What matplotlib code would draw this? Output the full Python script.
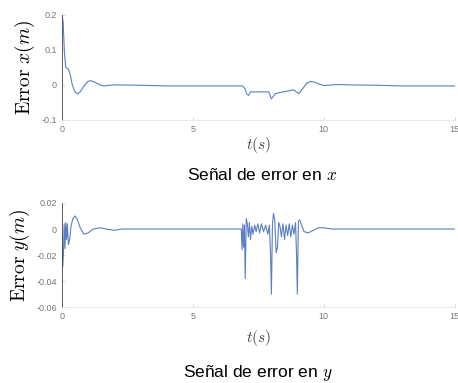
import matplotlib
matplotlib.use("Agg")
import matplotlib.pyplot as plt

# === DATOS ===
t_x = [0.0, 0.05, 0.1, 0.15, 0.25, 0.32, 0.4, 0.5, 0.6, 0.7, 0.85, 1.0, 1.1, 1.25, 1.45, 1.6, 1.8, 2.0,
       3.0, 4.0, 5.0, 6.0, 6.9, 7.0, 7.05, 7.12, 7.2, 7.5, 7.9, 7.95, 8.0, 8.05, 8.15, 8.3, 8.6, 8.85,
       8.95, 9.05, 9.2, 9.35, 9.5, 9.65, 9.8, 10.0, 10.3, 10.6, 11.0, 12.0, 13.0, 14.0, 15.0]
err_x = [0.2, 0.18, 0.09, 0.05, 0.045, 0.03, 0.0, -0.02, -0.026, -0.02, -0.003, 0.01, 0.012, 0.008, 0.0, -0.003, -0.001, 0.0,
         -0.001, -0.003, -0.003, -0.003, -0.003, -0.012, -0.025, -0.03, -0.02, -0.02, -0.02, -0.03, -0.04, -0.035, -0.025, -0.022, -0.018, -0.014,
         -0.02, -0.025, -0.01, 0.005, 0.01, 0.008, 0.003, -0.002, 0.0, 0.001, 0.0, -0.001, -0.003, -0.003, -0.003]

t_y = [0.0, 0.03, 0.06, 0.09, 0.12, 0.15, 0.18, 0.21, 0.25, 0.3, 0.35, 0.42, 0.5, 0.58, 0.7, 0.85, 1.0, 1.2, 1.45, 1.7, 2.0, 2.3,
       3.0, 5.0, 6.85, 6.88, 6.91, 6.94, 6.97, 7.0, 7.04, 7.08, 7.12, 7.16, 7.2, 7.25, 7.3, 7.36, 7.42, 7.48, 7.55, 7.62, 7.7, 7.78, 7.86, 7.92,
       7.97, 8.0, 8.04, 8.08, 8.13, 8.18, 8.23, 8.28, 8.33, 8.38, 8.44, 8.5, 8.56, 8.62, 8.68, 8.74, 8.8, 8.86, 8.92, 8.96, 8.99, 9.03,
       9.08, 9.15, 9.25, 9.4, 9.6, 9.8, 10.0, 10.3, 10.6, 11.0, 12.0, 13.0, 15.0]
err_y = [0.0, -0.029, -0.02, 0.004, -0.015, 0.005, -0.008, 0.004, -0.012, -0.008, 0.002, 0.008, 0.01, 0.008, 0.001, -0.004, -0.003, 0.0, 0.001, 0.0, -0.001, 0.0,
         0.0, 0.0, 0.0, -0.016, 0.004, -0.014, 0.003, -0.038, 0.008, 0.004, -0.006, 0.005, -0.008, 0.002, -0.004, 0.003, -0.002, 0.004, -0.003, 0.004, -0.002, 0.003, -0.004, 0.003,
         -0.02, -0.05, 0.004, 0.012, 0.006, -0.018, -0.014, 0.005, 0.002, -0.006, 0.004, -0.008, 0.003, -0.005, 0.004, -0.006, 0.003, -0.004, 0.005, -0.02, -0.05, 0.006,
         0.007, 0.003, -0.002, -0.003, -0.001, 0.001, 0.001, 0.0, 0.0, 0.0, 0.0, 0.0, 0.0]

x_ticks = [0, 5, 10, 15]
line_color = "#5a7fc2"

plt.rcParams["mathtext.fontset"] = "cm"
plt.rcParams["font.family"] = ["Liberation Sans", "DejaVu Sans"]

fig = plt.figure(figsize=(4.58, 3.83), dpi=100)
ax1 = fig.add_axes([0.135, 0.687, 0.858, 0.274])
ax2 = fig.add_axes([0.135, 0.198, 0.858, 0.272])


def estilo(ax, ylim, yticks, ylabels, ylabel, pad):
    ax.set_xlim(0, 15)
    ax.set_ylim(*ylim)
    ax.set_xticks(x_ticks)
    ax.set_yticks(yticks)
    ax.set_yticklabels(ylabels)
    for s in ["top", "right"]:
        ax.spines[s].set_visible(False)
    ax.spines["left"].set_color("#444444")
    ax.spines["left"].set_linewidth(0.6)
    ax.spines["bottom"].set_color("#e4e4e4")
    ax.spines["bottom"].set_linewidth(0.6)
    ax.tick_params(direction="in", length=2, width=0.5, colors="#cccccc",
                   labelcolor="#777777", labelsize=6.5)
    ax.set_ylabel(ylabel, fontsize=14, labelpad=3)
    ax.set_xlabel(r"$t(s)$", fontsize=11, color="#444444", labelpad=pad)


ax1.plot(t_x, err_x, color=line_color, lw=0.8)
estilo(ax1, (-0.1, 0.2), [-0.1, 0, 0.1, 0.2], ["-0.1", "0", "0.1", "0.2"],
       r"$\mathrm{Error}\ x(m)$", 1)
fig.text(0.572, 0.543, r"Señal de error en $x$", fontsize=12.5, ha="center", va="center")

ax2.plot(t_y, err_y, color=line_color, lw=0.8)
estilo(ax2, (-0.06, 0.02), [-0.06, -0.04, -0.02, 0, 0.02],
       ["-0.06", "-0.04", "-0.02", "0", "0.02"],
       r"$\mathrm{Error}\ y(m)$", 5)
fig.text(0.564, 0.027, r"Señal de error en $y$", fontsize=12.5, ha="center", va="center")

fig.savefig("out.png", dpi=100)
